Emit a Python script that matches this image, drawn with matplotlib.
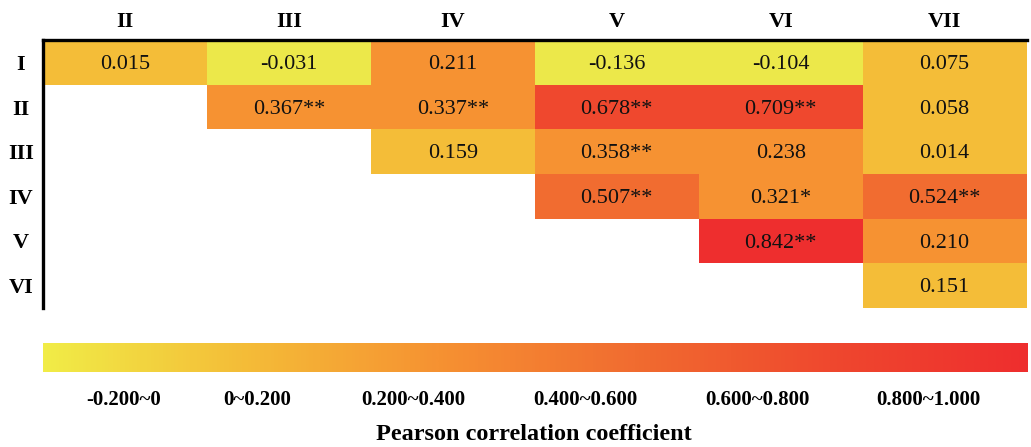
import numpy as np
import matplotlib.pyplot as plt
from matplotlib.colors import ListedColormap, BoundaryNorm, LinearSegmentedColormap

plt.rcParams['font.family'] = ['Liberation Serif', 'DejaVu Serif']

rows = ["I", "II", "III", "IV", "V", "VI"]
cols = ["II", "III", "IV", "V", "VI", "VII"]

# upper triangle of the correlation matrix, nan where empty
r = np.array([
    [0.015, -0.031, 0.211, -0.136, -0.104, 0.075],
    [np.nan, 0.367, 0.337, 0.678, 0.709, 0.058],
    [np.nan, np.nan, 0.159, 0.358, 0.238, 0.014],
    [np.nan, np.nan, np.nan, 0.507, 0.321, 0.524],
    [np.nan, np.nan, np.nan, np.nan, 0.842, 0.210],
    [np.nan, np.nan, np.nan, np.nan, np.nan, 0.151],
])
stars = [
    ["", "", "", "", "", ""],
    ["", "**", "**", "**", "**", ""],
    ["", "", "", "**", "", ""],
    ["", "", "", "**", "*", "**"],
    ["", "", "", "", "**", ""],
    ["", "", "", "", "", ""],
]

bounds = [-0.2, 0.0, 0.2, 0.4, 0.6, 0.8, 1.0]
bin_labels = ["-0.200~0", "0~0.200", "0.200~0.400", "0.400~0.600", "0.600~0.800", "0.800~1.000"]
label_pos = [-0.102, 0.061, 0.252, 0.461, 0.671, 0.880]
bin_colors = ["#ECE84A", "#F4BD38", "#F69232", "#F16C30", "#EF482E", "#EE2E2E"]

cmap = ListedColormap(bin_colors)
norm = BoundaryNorm(bounds, cmap.N)

fig = plt.figure(figsize=(10.31, 4.47), dpi=100)
ax = fig.add_axes([0.0417, 0.311, 0.954, 0.5995])

ax.pcolormesh(np.arange(len(cols) + 1), np.arange(len(rows) + 1),
              np.ma.masked_invalid(r), cmap=cmap, norm=norm)
ax.set_xlim(0, len(cols))
ax.set_ylim(len(rows), 0)

for i in range(len(rows)):
    for j in range(len(cols)):
        if not np.isnan(r[i, j]):
            ax.text(j + 0.5, i + 0.55, f"{r[i, j]:.3f}{stars[i][j]}",
                    ha='center', va='center', fontsize=16, color='#111111')

ax.xaxis.tick_top()
ax.set_xticks(np.arange(len(cols)) + 0.5)
ax.set_xticklabels(cols, fontsize=16, fontweight='bold')
ax.set_yticks(np.arange(len(rows)) + 0.5)
ax.set_yticklabels(rows, fontsize=16, fontweight='bold', ha='center')
ax.tick_params(axis='y', length=0, pad=16)
ax.tick_params(axis='x', length=0, pad=6)
for s in ['right', 'bottom']:
    ax.spines[s].set_visible(False)
for s in ['top', 'left']:
    ax.spines[s].set_linewidth(2.4)
    ax.spines[s].set_color('black')

# gradient legend bar
cax = fig.add_axes([0.0417, 0.168, 0.9545, 0.065])
grad_cmap = LinearSegmentedColormap.from_list("grad", ["#F1EC47"] + bin_colors[1:])
grad = np.linspace(bounds[0], bounds[-1], 600).reshape(1, -1)
cax.imshow(grad, aspect='auto', cmap=grad_cmap,
           extent=[bounds[0], bounds[-1], 0, 1])
cax.set_xlim(bounds[0], bounds[-1])
cax.set_ylim(0, 1)
cax.set_xticks([])
cax.set_yticks([])
for s in cax.spines.values():
    s.set_visible(False)

for p, lab in zip(label_pos, bin_labels):
    cax.text(p, -0.95, lab, ha='center', va='center',
             fontsize=15, fontweight='bold')

fig.text(0.518, 0.027, "Pearson correlation coefficient", ha='center', va='center',
         fontsize=17.5, fontweight='bold')

plt.savefig("out.png", dpi=100)
